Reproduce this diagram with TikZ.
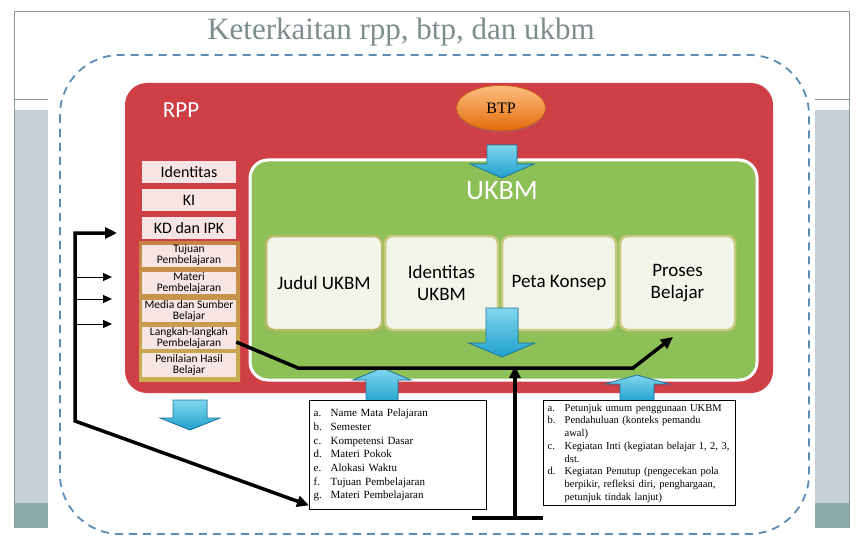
\documentclass[tikz,border=0pt]{standalone}
\usepackage{fontspec}
\setmainfont{Liberation Serif}
\setsansfont{Carlito}
\usetikzlibrary{arrows.meta,shapes.geometric,shadows}
\definecolor{frameline}{RGB}{138,154,156}
\definecolor{bandlight}{RGB}{197,209,215}
\definecolor{banddark}{RGB}{143,170,171}
\definecolor{titlegray}{RGB}{125,140,141}
\definecolor{dashblue}{RGB}{90,140,184}
\definecolor{rppred}{RGB}{207,64,70}
\definecolor{ukbmgreen}{RGB}{141,192,86}
\definecolor{boxfill}{RGB}{242,245,234}
\definecolor{boxborder}{RGB}{200,201,128}
\definecolor{pinkfill}{RGB}{247,229,228}
\definecolor{goldtop}{RGB}{200,130,70}
\definecolor{goldbot}{RGB}{201,175,82}
\definecolor{arrowlight}{RGB}{130,215,238}
\definecolor{arrowdark}{RGB}{30,160,205}
\definecolor{arrowedge}{RGB}{30,120,160}
\definecolor{btplight}{RGB}{252,190,130}
\definecolor{btpdark}{RGB}{228,108,10}
\newcommand\blockarr[6]{%
  \filldraw[blockarrow] ({#1-#3},#2) -- ({#1+#3},#2) -- ({#1+#3},#4) -- ({#1+#5},#4)
    -- (#1,#6) -- ({#1-#5},#4) -- ({#1-#3},#4) -- cycle;}
\begin{document}
\begin{tikzpicture}[x=1pt,y=-1pt,
  rppitem/.style={rectangle, fill=pinkfill, minimum width=94pt, minimum height=22pt,
    inner sep=0pt, font=\sffamily\fontsize{16}{18}\selectfont, align=center},
  rppsmall/.style={rppitem, font=\sffamily\fontsize{11.5}{11}\selectfont},
  ukbmbox/.style={rectangle, rounded corners=8pt, fill=boxfill, draw=boxborder,
    line width=2.5pt, minimum height=94pt, inner sep=0pt, align=center,
    font=\sffamily\fontsize{19}{22}\selectfont},
  listbox/.style={rectangle, draw=black, line width=1.4pt, fill=white, align=left,
    inner ysep=0pt, inner xsep=4pt, anchor=north west},
  blockarrow/.style={top color=arrowlight, bottom color=arrowdark, draw=arrowedge, line width=0.8pt},
  thickline/.style={line width=3.5pt, black},
  thinline/.style={line width=1pt, black},
  bigtip/.style={-{Triangle[length=12pt,width=11pt]}},
  smalltip/.style={-{Triangle[length=9pt,width=8pt]}},
  btpnode/.style={ellipse, minimum width=89pt, minimum height=45pt, inner sep=0pt,
    top color=btplight, bottom color=btpdark, draw=btpdark!90!black, line width=0.6pt,
    drop shadow={shadow xshift=0pt, shadow yshift=-2pt, opacity=0.35},
    font=\fontsize{16}{18}\selectfont},
]
\useasboundingbox (0,0) rectangle (864,540);
% slide frame
\fill[bandlight] (14,110) rectangle (48,503);
\fill[banddark] (14,503) rectangle (48,528);
\fill[bandlight] (815,110) rectangle (849,503);
\fill[banddark] (815,503) rectangle (849,528);
\draw[frameline, line width=1pt] (14,528) -- (14,12) -- (849,12) -- (849,528);
\draw[frameline, line width=1pt] (14,100) -- (48,100);
\draw[frameline, line width=1pt] (815,100) -- (849,100);
\node[font=\fontsize{31}{36}\selectfont, text=titlegray] (title) at (401,32) {Keterkaitan rpp, btp, dan ukbm};
% dashed outline
\draw[dashblue, line width=1.8pt, dash pattern=on 8pt off 6pt, rounded corners=60pt] (60,55) rectangle (809,534);
% RPP frame
\fill[rppred, rounded corners=22pt] (125,83) rectangle (773,393);
\node[font=\sffamily\fontsize{23}{26}\selectfont, text=white] (rpplabel) at (181,110) {RPP};
% UKBM frame
\filldraw[fill=ukbmgreen, draw=white, line width=3pt, rounded corners=18pt] (250,160) rectangle (757,380);
\node[font=\sffamily\fontsize{28}{30}\selectfont, text=white] (ukbmlabel) at (502,191) {UKBM};
% BTP
\node[btpnode] (btp) at (501,108) {BTP};
\blockarr{502}{145}{15}{164}{32}{178}
% RPP items
\fill[top color=goldtop, bottom color=goldbot] (139,241) rectangle (240,381);
\node[rppitem] (idn) at (189,172.5) {Identitas};
\node[rppitem] (ki) at (189,200) {KI};
\node[rppitem] (kd) at (189,228) {KD dan IPK};
\node[rppsmall] (tuj) at (189,255.5) {Tujuan\\Pembelajaran};
\node[rppsmall] (mat) at (189,283) {Materi\\Pembelajaran};
\node[rppsmall] (med) at (189,311) {Media dan Sumber\\Belajar};
\node[rppsmall] (lan) at (189,338) {Langkah-langkah\\Pembelajaran};
\node[rppsmall, minimum height=24pt] (pen) at (189,365) {Penilaian Hasil\\Belajar};
% UKBM boxes
\node[ukbmbox, minimum width=116pt, draw=boxborder!80!olive] (judul) at (324,283) {Judul UKBM};
\node[ukbmbox, minimum width=113pt] (iden) at (441.5,283) {Identitas\\UKBM};
\node[ukbmbox, minimum width=114pt] (peta) at (559,283) {Peta Konsep};
\node[ukbmbox, minimum width=115pt] (proses) at (677.5,283) {Proses\\Belajar};
% block arrows
\blockarr{502}{308}{16}{343}{33}{357}
\blockarr{190}{400}{17}{418}{30}{430}
\blockarr{382}{405}{16}{380}{29}{368}
\blockarr{637}{402}{17}{384}{32}{375}
% lists
\node[listbox, text width=169pt, minimum height=109pt, font=\fontsize{11}{13.7}\selectfont] (list1) at (309,400) {%
\makebox[17pt][l]{a.}Name Mata Pelajaran\\
\makebox[17pt][l]{b.}Semester\\
\makebox[17pt][l]{c.}Kompetensi Dasar\\
\makebox[17pt][l]{d.}Materi Pokok\\
\makebox[17pt][l]{e.}Alokasi Waktu\\
\makebox[17pt][l]{f.}Tujuan Pembelajaran\\
\makebox[17pt][l]{g.}Materi Pembelajaran};
\node[listbox, text width=184pt, minimum height=105pt, font=\fontsize{10.5}{12.7}\selectfont] (list2) at (543,400) {%
\makebox[17pt][l]{a.}Petunjuk umum penggunaan UKBM\\
\makebox[17pt][l]{b.}Pendahuluan (konteks pemandu\\
\hspace*{17pt}awal)\\
\makebox[17pt][l]{c.}Kegiatan Inti (kegiatan belajar 1, 2, 3,\\
\hspace*{17pt}dst.\\
\makebox[17pt][l]{d.}Kegiatan Penutup (pengecekan pola\\
\hspace*{17pt}berpikir, refleksi diri, penghargaan,\\
\hspace*{17pt}petunjuk tindak lanjut)};
% connectors
\coordinate (kdin) at (117,233);
\coordinate (lv1) at (75,233);
\coordinate (lv2) at (75,421);
\coordinate (s1) at (75,277);
\coordinate (s2) at (75,299);
\coordinate (s3) at (75,324);
\coordinate (e1) at (112,277);
\coordinate (e2) at (112,299);
\coordinate (e3) at (112,324);
\coordinate (bend1) at (298,368);
\coordinate (bend2) at (633,368);
\coordinate (proin) at (673,337);
\coordinate (tbase) at (515,518);
\coordinate (tjoin) at (515,366);
\coordinate (tleft) at (472,518);
\coordinate (tright) at (543,518);
\draw[thickline, {Triangle[length=12pt,width=11pt]}-{Triangle[length=12pt,width=11pt]}]
  (kdin) -- (lv1) -- (lv2) -- ([yshift=5pt]list1.south west);
\draw[thinline, smalltip] (s1) -- (e1);
\draw[thinline, smalltip] (s2) -- (e2);
\draw[thinline, smalltip] (s3) -- (e3);
\draw[thickline, bigtip] ([yshift=-4pt]lan.east) -- (bend1) -- (bend2) -- (proin);
\draw[thickline, bigtip] (tbase) -- (tjoin);
\draw[thickline] (tleft) -- (tright);
\end{tikzpicture}
\end{document}
